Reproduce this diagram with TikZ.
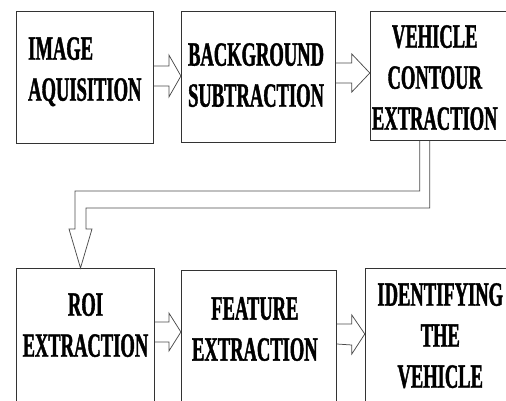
\documentclass[tikz,border=0pt]{standalone}
\usepackage{fontspec}
\newfontfamily\stagefont[FakeStretch=0.545, FakeBold=1.2]{Liberation Serif}
\usepackage{tikz}
\usetikzlibrary{positioning, calc}
\tikzset{
    stage/.style={
        rectangle,
        draw=black!80,
        line width=0.9pt,
        inner sep=0pt,
        fill=white
    },
    stagetext/.style={
        inner sep=0pt,
        font=\stagefont\bfseries\fontsize{34}{41}\selectfont
    },
    hollow/.style={
        draw=black!70,
        line width=0.75pt,
        line join=miter
    }
}

\begin{document}
\begin{tikzpicture}[x=1pt, y=1pt]
\useasboundingbox (0,0) rectangle (506,-400);
\clip (0,0) rectangle (506,-400);

% Top row
\node[stage, minimum width=137pt, minimum height=132pt, anchor=north west] (img) at (16,-11) {};
\node[stage, minimum width=154pt, minimum height=131pt, right=27pt of img.north east, anchor=north west] (bgsub) {};
\node[stage, minimum width=137pt, minimum height=129pt, right=34pt of bgsub.north east, anchor=north west] (contour) {};

\node[stagetext, align=left, below right=26pt and 12pt of img.north west] (imgtext) {IMAGE\\AQUISITION};
\node[stagetext, align=left, below right=32pt and 7pt of bgsub.north west] (bgsubtext) {BACKGROUND\\SUBTRACTION};
\node[stagetext, align=center, below=14pt of contour.north, xshift=-4pt] (contourtext) {VEHICLE\\CONTOUR\\EXTRACTION};

% Bottom row
\node[stage, minimum width=138pt, minimum height=150pt, anchor=north west] (roi) at (16,-268) {};
\node[stage, minimum width=155pt, minimum height=150pt, right=26pt of roi.north east, anchor=north west, yshift=-2pt] (feature) {};
\node[stage, minimum width=150pt, minimum height=150pt, right=28pt of feature.north east, anchor=north west, yshift=2pt] (ident) {};

\node[stagetext, align=center, below=25pt of roi.north] (roitext) {ROI\\EXTRACTION};
\node[stagetext, align=center, below=27pt of feature.north, xshift=-4pt] (featuretext) {FEATURE\\EXTRACTION};
\node[stagetext, align=center, below=15pt of ident.north] (identtext) {IDENTIFYING\\THE\\VEHICLE};

% Hollow arrows between stages
\draw[hollow] (img.east |- 0,-66) -- ++(15,0) -- ++(0,11) -- (bgsub.west |- 0,-76)
    -- ++(-12,-21) -- ++(0,11) -- (img.east |- 0,-86);
\draw[hollow] (bgsub.east |- 0,-63) -- ++(16,0) -- ++(0,9) -- (contour.west |- 0,-73)
    -- ++(-18,-19) -- ++(0,9) -- (bgsub.east |- 0,-83);
\draw[hollow] (roi.east |- 0,-322) -- ++(14,0) -- ++(0,9) -- (feature.west |- 0,-332)
    -- ++(-12,-19) -- ++(0,9) -- (roi.east |- 0,-342);
\draw[hollow] (feature.east |- 0,-324) -- ++(15,0) -- ++(0,9) -- (ident.west |- 0,-334)
    -- ++(-13,-20) -- ++(0,9) -- (feature.east |- 0,-344);

% Bent arrow down to the second row
\draw[hollow] ([xshift=50pt]contour.south west) |- ([xshift=59pt]roi.north west |- 0,-191)
    -- ++(0,-38) -- ++(-6,0) -- ([xshift=64.5pt]roi.north west)
    -- ++(11.5,39) -- ++(-6,0) |- ([xshift=60pt]contour.south west |- 0,-208)
    -- ([xshift=60pt]contour.south west);

\end{tikzpicture}
\end{document}
